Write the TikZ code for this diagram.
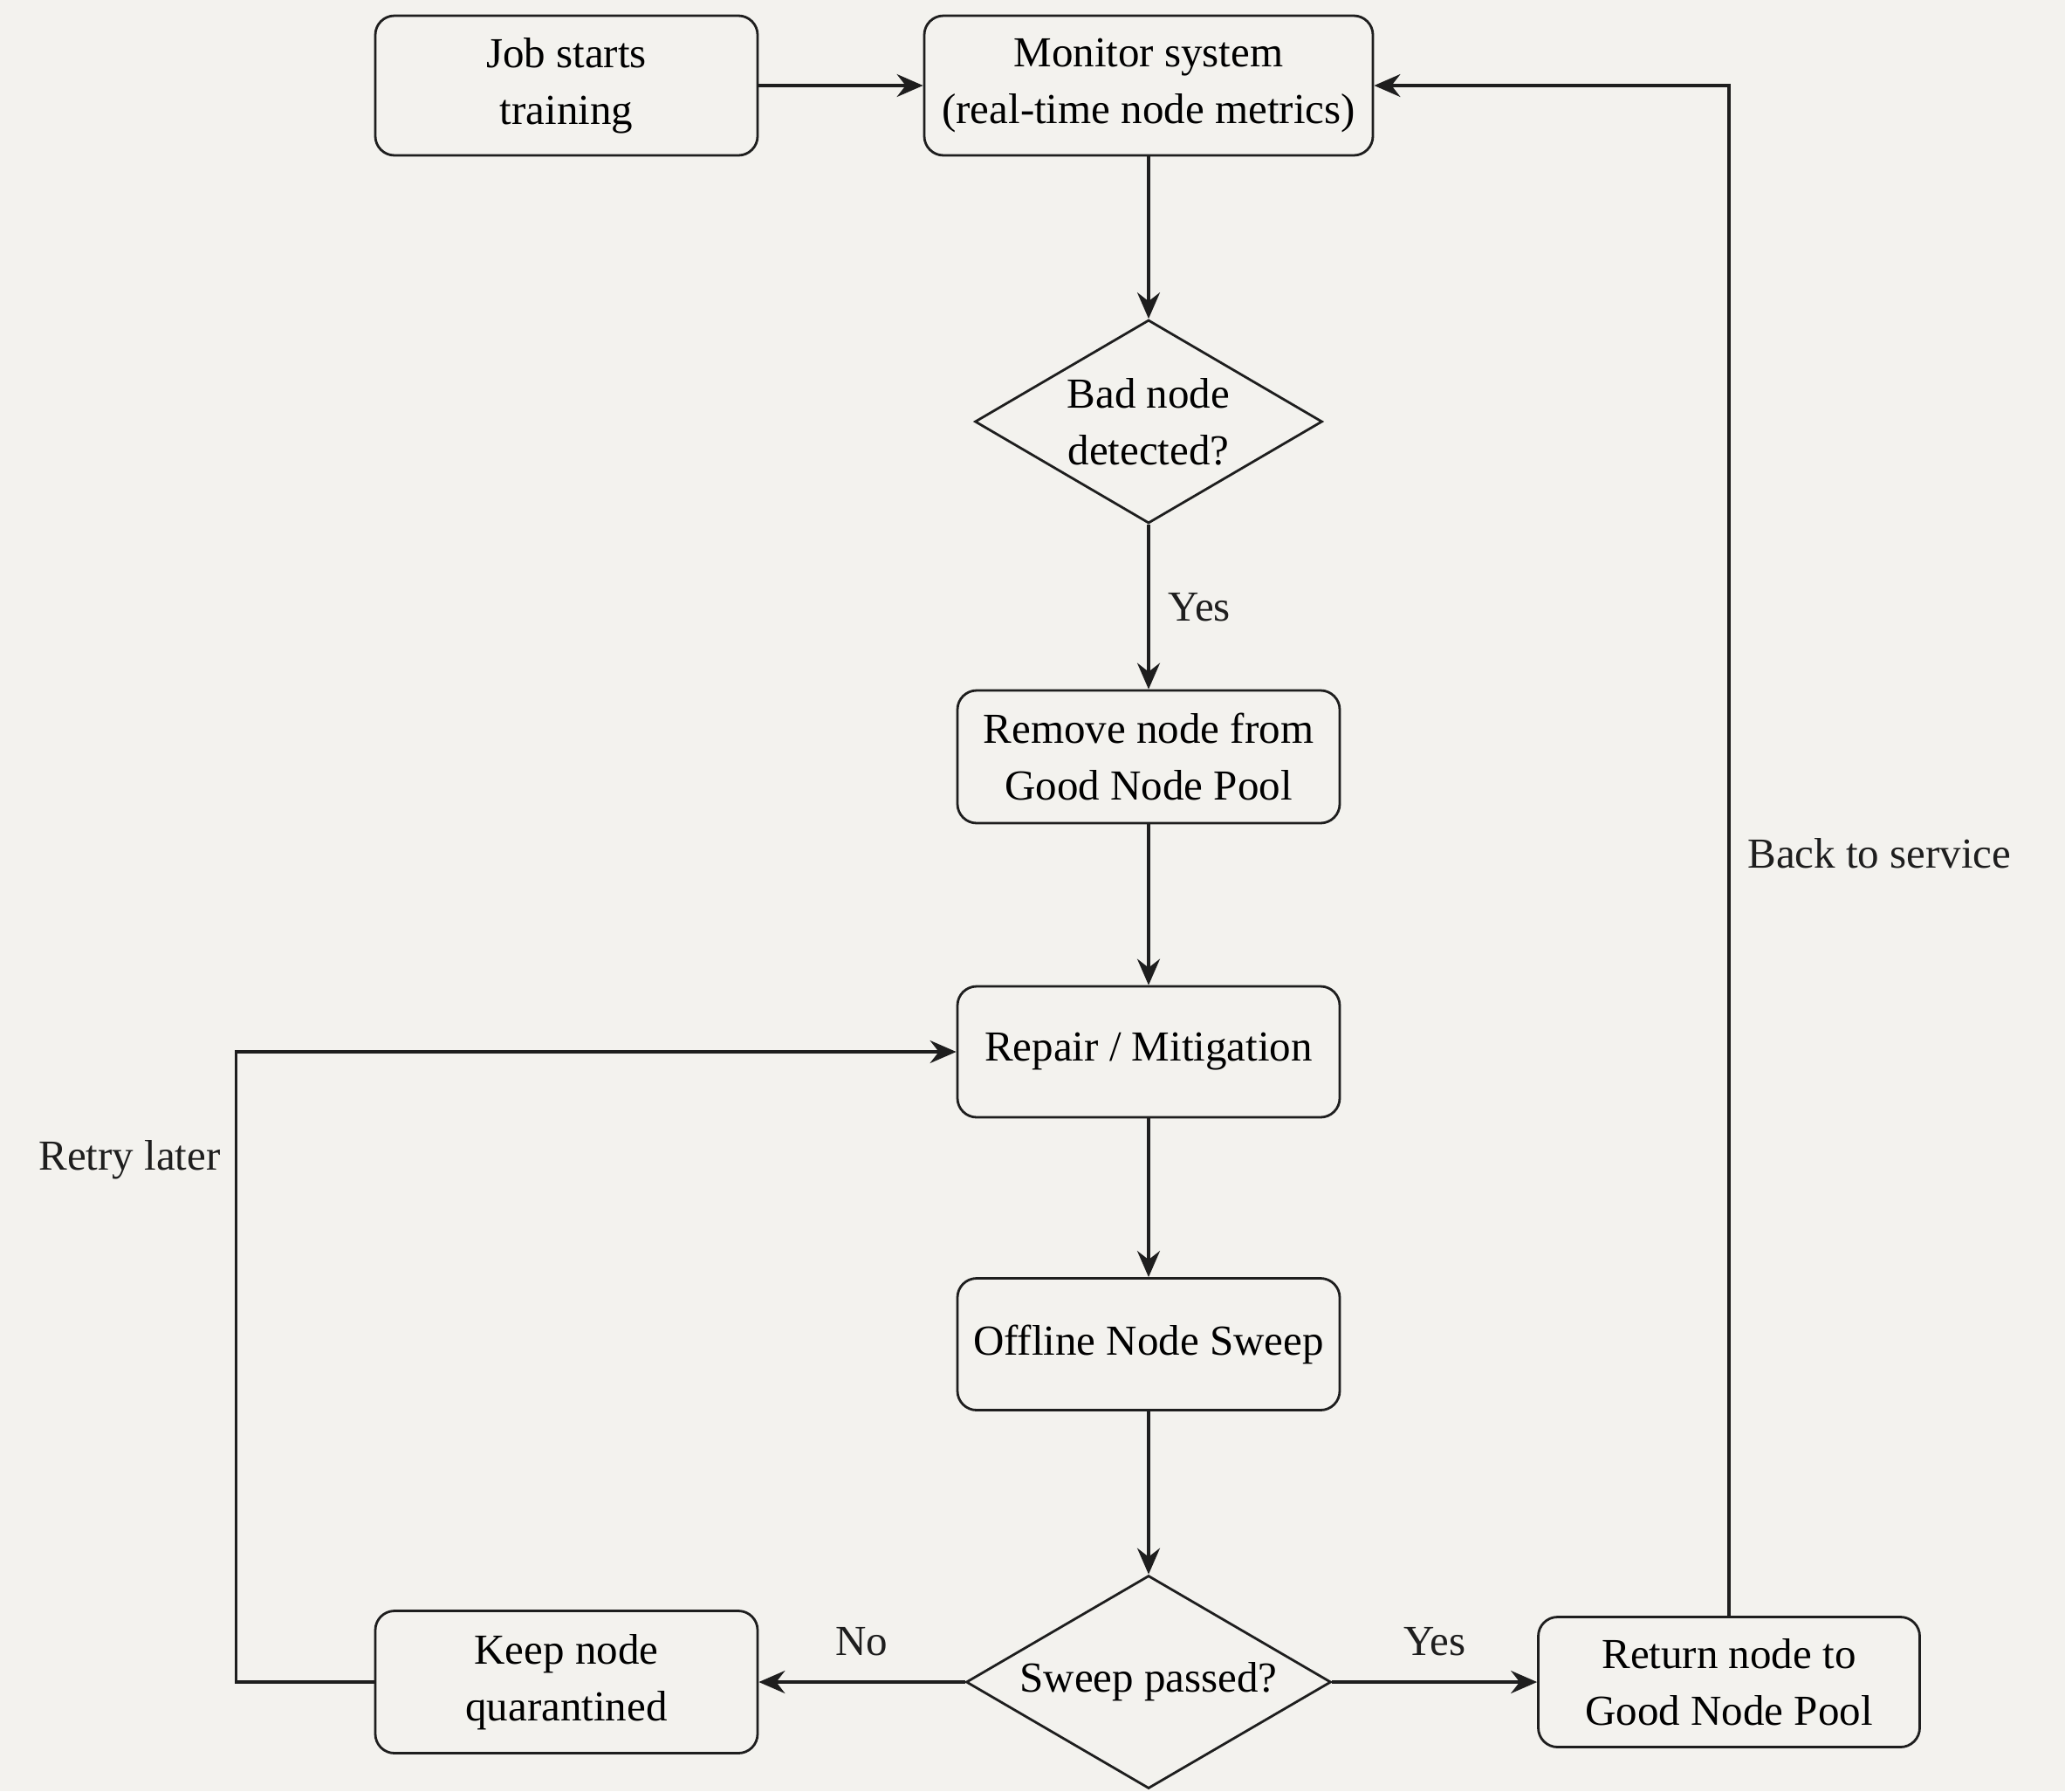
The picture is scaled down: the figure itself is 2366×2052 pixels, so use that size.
\documentclass[tikz,border=0pt]{standalone}
\usepackage{fontspec}
\setmainfont{Liberation Serif}
\usetikzlibrary{shapes.geometric,arrows.meta}
\definecolor{bgc}{HTML}{F3F2EE}
\definecolor{ink}{HTML}{1E1E1E}
\begin{document}
\begin{tikzpicture}[x=0.5pt,y=-0.5pt,
  font=\fontsize{24.5}{32.5}\selectfont,
  box/.style={draw=ink, line width=1.4pt, rounded corners=11pt, align=center, inner sep=0pt, minimum width=219pt},
  dec/.style={draw=ink, line width=1.4pt, diamond, aspect=1.71, align=center, inner sep=0pt},
  conn/.style={draw=ink, line width=1.7pt, -{Stealth[length=15pt,width=13pt,inset=5pt]}},
  lbl/.style={inner sep=0pt, text=ink}]
\fill[bgc] (0,0) rectangle (2366,2052);
\useasboundingbox (0,0) rectangle (2366,2052);

\node[box, minimum height=80pt] (job) at (649,98) {Job starts\\training};
\node[box, minimum width=257pt, minimum height=80pt] (mon) at (1316,98) {Monitor system\\(real-time node metrics)};
\node[dec, minimum width=199pt, minimum height=116.5pt] (bad) at (1316,483) {Bad node\\detected?};
\node[box, minimum height=76pt] (rem) at (1316,867) {Remove node from\\Good Node Pool};
\node[box, minimum height=75pt] (rep) at (1316,1205) {Repair / Mitigation};
\node[box, minimum height=75.5pt] (off) at (1316,1540) {Offline Node Sweep};
\node[dec, minimum width=209pt, minimum height=122pt] (swp) at (1316,1927) {Sweep passed?};
\node[box, minimum height=81.5pt] (keep) at (649,1927) {Keep node\\quarantined};
\node[box, minimum width=218.5pt, minimum height=74.5pt] (ret) at (1981,1927) {Return node to\\Good Node Pool};

\draw[conn] (job.east) -- (mon.west);
\draw[conn] (mon.south) -- (bad.north);
\draw[conn] (bad.south) -- node[lbl, right=10.5pt] (yes1) {Yes} (rem.north);
\draw[conn] (rem.south) -- (rep.north);
\draw[conn] (rep.south) -- (off.north);
\draw[conn] (off.south) -- (swp.north);
\draw[conn] (swp.west) -- node[lbl, above=14pt] (no) {No} (keep.east);
\draw[conn] (swp.east) -- node[lbl, above=14pt] (yes2) {Yes} (ret.west);
\draw[conn] (ret.north) |- (mon.east);
\node[lbl, anchor=west] (backlbl) at (2002,978) {Back to service};
\draw[conn] (keep.west) -- ++(-158,0) coordinate (lb) |- (rep.west);
\node[lbl, anchor=east] (retry) at (253,1329) {Retry later};
\end{tikzpicture}
\end{document}
